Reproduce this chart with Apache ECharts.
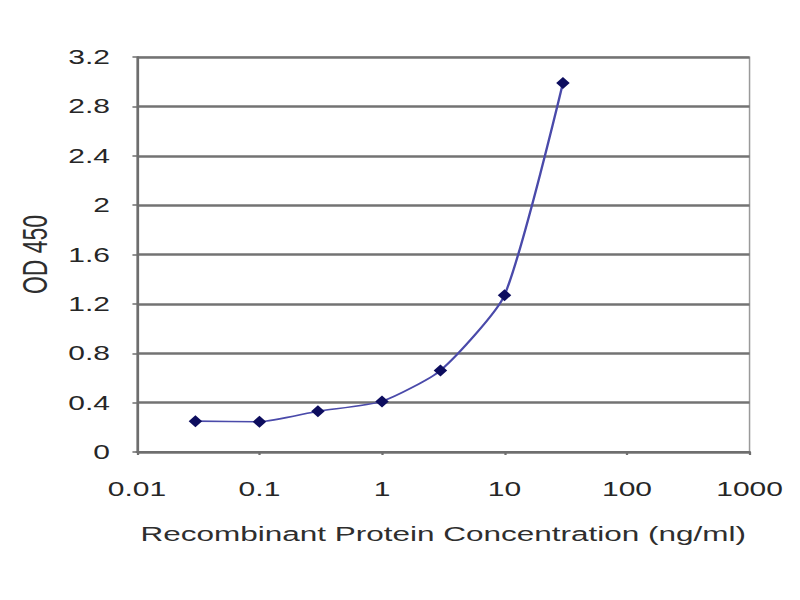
<!DOCTYPE html>
<html>
<head>
<meta charset="utf-8">
<script src="https://cdn.jsdelivr.net/npm/echarts@6/dist/echarts.min.js"></script>
<style>
html,body{margin:0;padding:0;background:#fff;overflow:hidden;}
#chart{width:533.333px;height:600px;transform:scaleX(1.5);transform-origin:0 0;}
</style>
</head>
<body>
<div id="chart"></div>
<script>
// Data
const concentrations = [0.03, 0.1, 0.3, 1, 3, 10, 30];
const odValues = [0.25, 0.245, 0.33, 0.41, 0.66, 1.27, 2.99];
const xTickLabels = ['0.01', '0.1', '1', '10', '100', '1000'];
const yTickLabels = ['0', '0.4', '0.8', '1.2', '1.6', '2', '2.4', '2.8', '3.2'];
const xAxisTitle = 'Recombinant Protein Concentration (ng/ml)';
const yAxisTitle = 'OD 450';

const points = concentrations.map((c, i) => [c, odValues[i]]);
const FONT = '"Liberation Sans", Arial, sans-serif';

const chart = echarts.init(document.getElementById('chart'), null, {renderer: 'svg'});
chart.setOption({
  backgroundColor: '#ffffff',
  animation: false,
  grid: {
    left: 91.3, right: 33.3, top: 57, bottom: 148,
    show: true, borderColor: '#9a9a9a', borderWidth: 1, backgroundColor: 'transparent'
  },
  xAxis: {
    type: 'log', logBase: 10, min: 0.01, max: 1000,
    name: xAxisTitle, nameLocation: 'middle', nameGap: 71,
    nameTextStyle: {fontFamily: FONT, fontSize: 21, color: '#2e2e2e'},
    axisLine: {show: true, lineStyle: {color: '#6e6e6e', width: 2}},
    axisTick: {show: true, length: 3, lineStyle: {color: '#6e6e6e', width: 1.5}},
    minorTick: {show: false},
    splitLine: {show: false},
    axisLabel: {
      fontFamily: FONT, fontSize: 20, color: '#262626', margin: 27,
      formatter: function (v) {
        const idx = Math.round(Math.log10(v)) + 2;
        return xTickLabels[idx] !== undefined ? xTickLabels[idx] : '';
      }
    }
  },
  yAxis: {
    type: 'value', min: 0, max: 3.2, interval: 0.4,
    name: yAxisTitle, nameLocation: 'middle', nameGap: 57, nameRotate: 90,
    nameTextStyle: {fontFamily: FONT, fontSize: 23, color: '#2e2e2e'},
    axisLine: {show: true, lineStyle: {color: '#6e6e6e', width: 1.5}},
    axisTick: {show: true, length: 3, lineStyle: {color: '#6e6e6e', width: 1.5}},
    splitLine: {show: true, lineStyle: {color: '#737373', width: 2.5}},
    axisLabel: {
      fontFamily: FONT, fontSize: 20, color: '#262626', margin: 18,
      formatter: function (v) {
        const idx = Math.round(v / 0.4);
        return yTickLabels[idx] !== undefined ? yTickLabels[idx] : '';
      }
    }
  },
  series: [{
    type: 'line',
    data: points,
    smooth: 0.2,
    symbol: 'diamond',
    symbolSize: [9, 12],
    itemStyle: {color: '#0d0d5e'},
    lineStyle: {color: '#4a4aaa', width: 1.6},
    z: 5
  }]
});
</script>
</body>
</html>
